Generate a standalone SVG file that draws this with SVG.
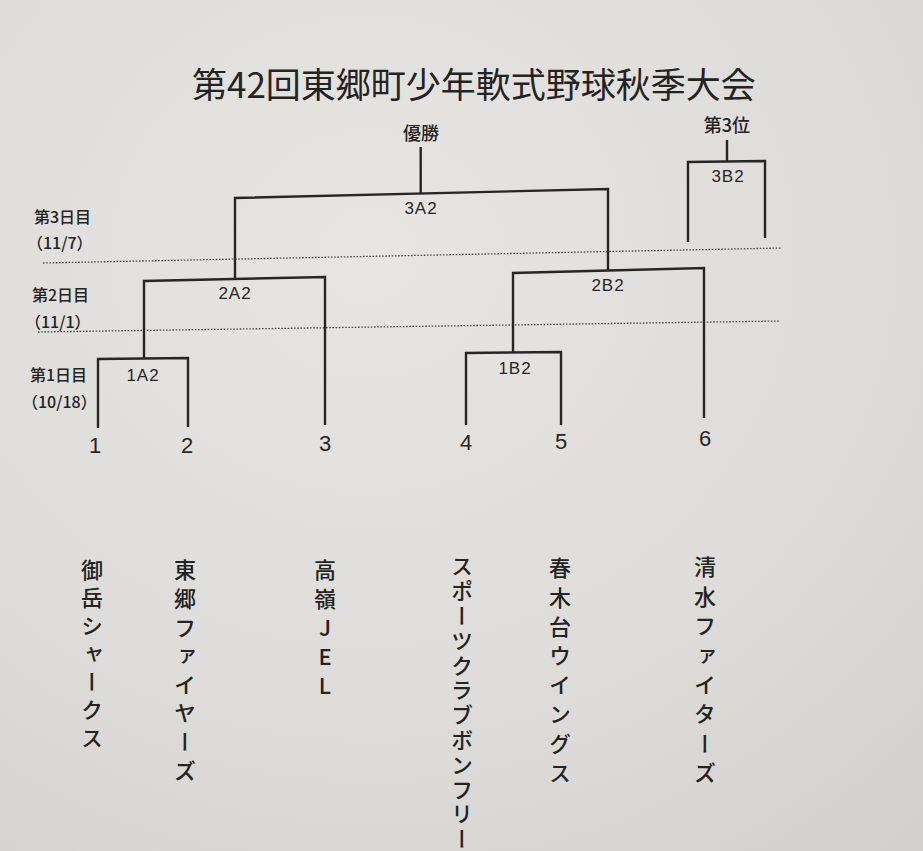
<svg xmlns="http://www.w3.org/2000/svg" width="923" height="851" viewBox="0 0 923 851">
  <defs>
    <radialGradient id="paper" cx="0.4" cy="0.3" r="0.9">
      <stop offset="0" stop-color="#e6e5e2"/>
      <stop offset="0.6" stop-color="#dddcd8"/>
      <stop offset="1" stop-color="#d2d1cd"/>
    </radialGradient>
    <style>
      .jp { font-family: "Noto Sans CJK JP", "Noto Sans", sans-serif; fill: #232323; }
      .lat { font-family: "Liberation Sans", "Noto Sans", sans-serif; fill: #262626; }
      .num { font-size: 22px; text-anchor: middle; }
      .lbl { font-size: 17px; text-anchor: middle; letter-spacing: 1px; }
      .day { font-size: 16px; font-weight: 500; }
      .head { font-size: 18px; text-anchor: middle; font-weight: 500; }
      .team { font-size: 22px; writing-mode: vertical-rl; text-orientation: upright; font-weight: 500; }
      .ttl { font-size: 35px; font-weight: 400; }
      .ln { fill: none; stroke: #262626; stroke-width: 2.4; stroke-linejoin: miter; }
      .dot { fill: none; stroke: #4a4a4a; stroke-width: 1.3; stroke-dasharray: 1.6 1.6; }
    </style>
  </defs>
  <rect width="923" height="851" fill="url(#paper)"/>

  <g id="title">
    <text class="jp ttl" x="192" y="98">第42回東郷町少年軟式野球秋季大会</text>
  </g>

  <g id="day-labels">
    <text class="jp day" x="34" y="223">第3日目</text>
    <text class="jp day" x="27" y="249">（11/7）</text>
    <text class="jp day" x="32" y="301">第2日目</text>
    <text class="jp day" x="25" y="328">（11/1）</text>
    <text class="jp day" x="30" y="381">第1日目</text>
    <text class="jp day" x="22" y="408">（10/18）</text>
  </g>

  <g id="dividers">
    <path class="dot" d="M43 263 L782 248"/>
    <path class="dot" d="M38 332 L780 321"/>
  </g>

  <g id="connectors">
    <path class="ln" d="M420.7 147 V193.5"/>
    <path class="ln" d="M235 278 L235 198 L608 189 L608 270"/>
    <path class="ln" d="M144 358 L144 281 L325 277 L325 425"/>
    <path class="ln" d="M98 428 L98 359 L188 358 L188 427"/>
    <path class="ln" d="M513 352 L513 273 L704 268 L704 418"/>
    <path class="ln" d="M466 425 L466 353 L561 352 L561 425"/>
    <path class="ln" d="M727 140 V161.5"/>
    <path class="ln" d="M688 242 L688 162 L765 161 L765 238"/>
  </g>

  <g id="final">
    <text class="jp head" x="421" y="140">優勝</text>
    <text class="lat lbl" x="421" y="214">3A2</text>
  </g>
  <g id="third-place">
    <text class="jp head" x="727" y="132">第3位</text>
    <text class="lat lbl" x="728" y="182">3B2</text>
  </g>
  <g id="match-2A2"><text class="lat lbl" x="235" y="299">2A2</text></g>
  <g id="match-1A2"><text class="lat lbl" x="143" y="381">1A2</text></g>
  <g id="match-2B2"><text class="lat lbl" x="608" y="291">2B2</text></g>
  <g id="match-1B2"><text class="lat lbl" x="515" y="374">1B2</text></g>

  <g id="team-1">
    <text class="lat num" x="95" y="453">1</text>
    <text class="jp team" x="92" y="559" letter-spacing="6">御岳シャークス</text>
  </g>
  <g id="team-2">
    <text class="lat num" x="187" y="453">2</text>
    <text class="jp team" x="185" y="559" letter-spacing="6.6">東郷ファイヤーズ</text>
  </g>
  <g id="team-3">
    <text class="lat num" x="325" y="451">3</text>
    <text class="jp team" x="325" y="559" letter-spacing="7">高嶺JEL</text>
  </g>
  <g id="team-4">
    <text class="lat num" x="466" y="450">4</text>
    <text class="jp team" x="462" y="555" letter-spacing="2.8">スポーツクラブボンフリー</text>
  </g>
  <g id="team-5">
    <text class="lat num" x="561" y="449">5</text>
    <text class="jp team" x="560" y="557" letter-spacing="7.2">春木台ウイングス</text>
  </g>
  <g id="team-6">
    <text class="lat num" x="705" y="446">6</text>
    <text class="jp team" x="705" y="556" letter-spacing="7.4">清水ファイターズ</text>
  </g>
</svg>
